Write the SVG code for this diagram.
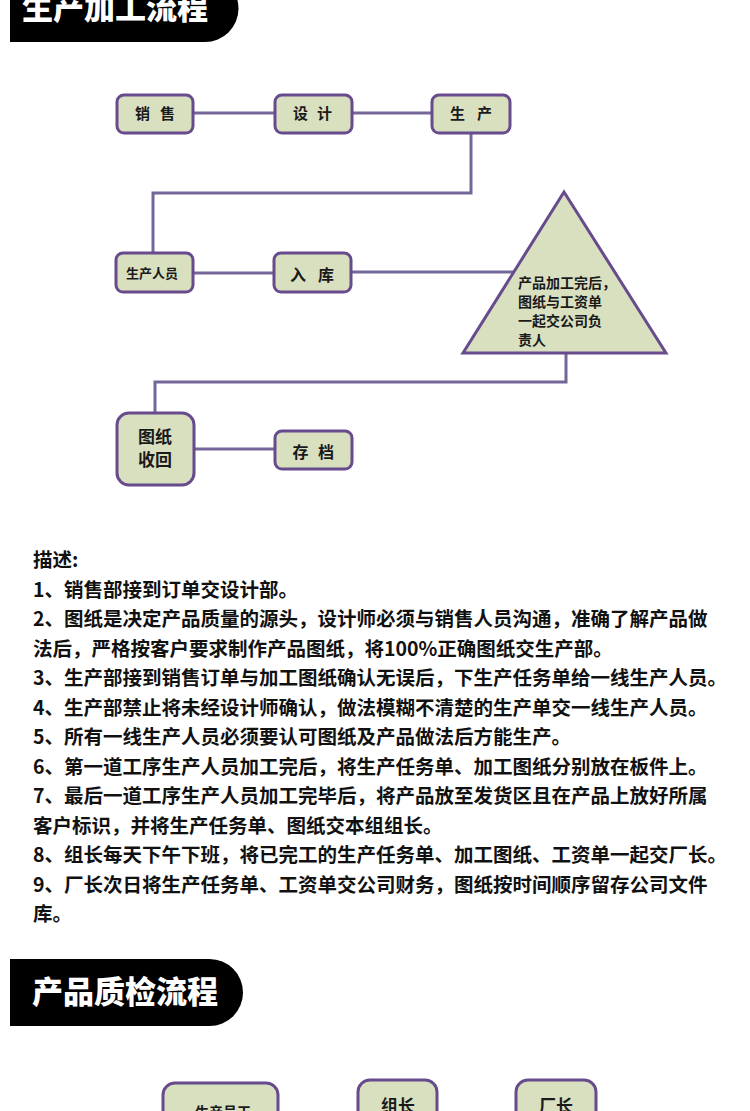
<svg xmlns="http://www.w3.org/2000/svg" width="750" height="1111" viewBox="0 0 750 1111">
<style>
.hdr{fill:#000}
.hdrt{fill:#fff;font-family:"Noto Sans CJK SC","Noto Sans",sans-serif;font-weight:900;font-size:31px}
.box{fill:#d9e0c0;stroke:#684b8c;stroke-width:3}
.nt{fill:#1a1a1a;font-family:"Noto Sans CJK SC",sans-serif;font-weight:700;text-anchor:middle}
.tt{fill:#1a1a1a;font-family:"Noto Sans CJK SC",sans-serif;font-weight:700;font-size:14px}
.con{fill:none;stroke:#756699;stroke-width:3}
.desc{fill:#111;font-family:"Noto Sans CJK SC",sans-serif;font-weight:700;font-size:19.5px}
</style>
<rect width="750" height="1111" fill="#fff"/>
<g id="header1">
<path class="hdr" d="M10,-25 H205 A33.5,33.5 0 0 1 205,42 H10 Z"/>
<text class="hdrt" x="22" y="19">生产加工流程</text>
</g>
<g id="connectors">
<line class="con" x1="193" y1="113" x2="275" y2="113"/>
<line class="con" x1="352" y1="113" x2="432" y2="113"/>
<polyline class="con" points="471,133 471,193 153,193 153,253"/>
<line class="con" x1="193" y1="273" x2="274" y2="273"/>
<line class="con" x1="351" y1="272" x2="516" y2="272"/>
<polyline class="con" points="566,353 566,382 155,382 155,413"/>
<line class="con" x1="193" y1="449" x2="275" y2="449"/>
</g>
<g id="node-xiaoshou">
<rect class="box" x="117" y="95" width="76" height="38" rx="7"/>
<text class="nt" font-size="15" x="142.5 167.5" y="119">销售</text>
</g>
<g id="node-sheji">
<rect class="box" x="275" y="95" width="77" height="38" rx="7"/>
<text class="nt" font-size="15" x="300.5 324.5" y="119">设计</text>
</g>
<g id="node-shengchan">
<rect class="box" x="432" y="95" width="78" height="38" rx="7"/>
<text class="nt" font-size="15" x="457.5 484.5" y="119">生产</text>
</g>
<g id="node-shengchanrenyuan">
<rect class="box" x="116" y="253" width="77" height="39" rx="7"/>
<text class="nt" font-size="13" x="152" y="278">生产人员</text>
</g>
<g id="node-ruku">
<rect class="box" x="274" y="253" width="77" height="39" rx="7"/>
<text class="nt" font-size="16" x="298 326" y="281">入库</text>
</g>
<g id="node-triangle">
<polygon class="box" points="564,192 463,353 666,353"/>
<text class="tt" x="518" y="288">产品加工完后，</text>
<text class="tt" x="518" y="307">图纸与工资单</text>
<text class="tt" x="518" y="326">一起交公司负</text>
<text class="tt" x="518" y="345">责人</text>
</g>
<g id="node-tuzhishouhui">
<rect class="box" x="117" y="413" width="77" height="72" rx="12"/>
<text class="nt" font-size="17" x="155" y="443">图纸</text>
<text class="nt" font-size="17" x="155" y="466">收回</text>
</g>
<g id="node-cundang">
<rect class="box" x="275" y="431" width="77" height="38" rx="7"/>
<text class="nt" font-size="16" x="300.5 326" y="458">存档</text>
</g>
<g id="description">
<text class="desc" x="33" y="567">描述:</text>
<text class="desc" x="33" y="597">1、销售部接到订单交设计部。</text>
<text class="desc" x="33" y="626">2、图纸是决定产品质量的源头，设计师必须与销售人员沟通，准确了解产品做</text>
<text class="desc" x="33" y="656">法后，严格按客户要求制作产品图纸，将100%正确图纸交生产部。</text>
<text class="desc" x="33" y="685">3、生产部接到销售订单与加工图纸确认无误后，下生产任务单给一线生产人员。</text>
<text class="desc" x="33" y="715">4、生产部禁止将未经设计师确认，做法模糊不清楚的生产单交一线生产人员。</text>
<text class="desc" x="33" y="744">5、所有一线生产人员必须要认可图纸及产品做法后方能生产。</text>
<text class="desc" x="33" y="774">6、第一道工序生产人员加工完后，将生产任务单、加工图纸分别放在板件上。</text>
<text class="desc" x="33" y="803">7、最后一道工序生产人员加工完毕后，将产品放至发货区且在产品上放好所属</text>
<text class="desc" x="33" y="833">客户标识，并将生产任务单、图纸交本组组长。</text>
<text class="desc" x="33" y="862">8、组长每天下午下班，将已完工的生产任务单、加工图纸、工资单一起交厂长。</text>
<text class="desc" x="33" y="892">9、厂长次日将生产任务单、工资单交公司财务，图纸按时间顺序留存公司文件</text>
<text class="desc" x="33" y="921">库。</text>
</g>
<g id="header2">
<path class="hdr" d="M10,959 H209.5 A33.5,33.5 0 0 1 209.5,1026 H10 Z"/>
<text class="hdrt" x="32" y="1003">产品质检流程</text>
</g>
<g id="node-shengchanyuangong">
<rect class="box" x="163" y="1083" width="115" height="50" rx="12"/>
<text class="nt" font-size="14" x="223" y="1117">生产员工</text>
</g>
<g id="node-zuzhang">
<rect class="box" x="358" y="1080" width="79" height="50" rx="12"/>
<text class="nt" font-size="17" x="398" y="1112">组长</text>
</g>
<g id="node-changzhang">
<rect class="box" x="516" y="1080" width="80" height="50" rx="12"/>
<text class="nt" font-size="17" x="556" y="1112">厂长</text>
</g>
</svg>
